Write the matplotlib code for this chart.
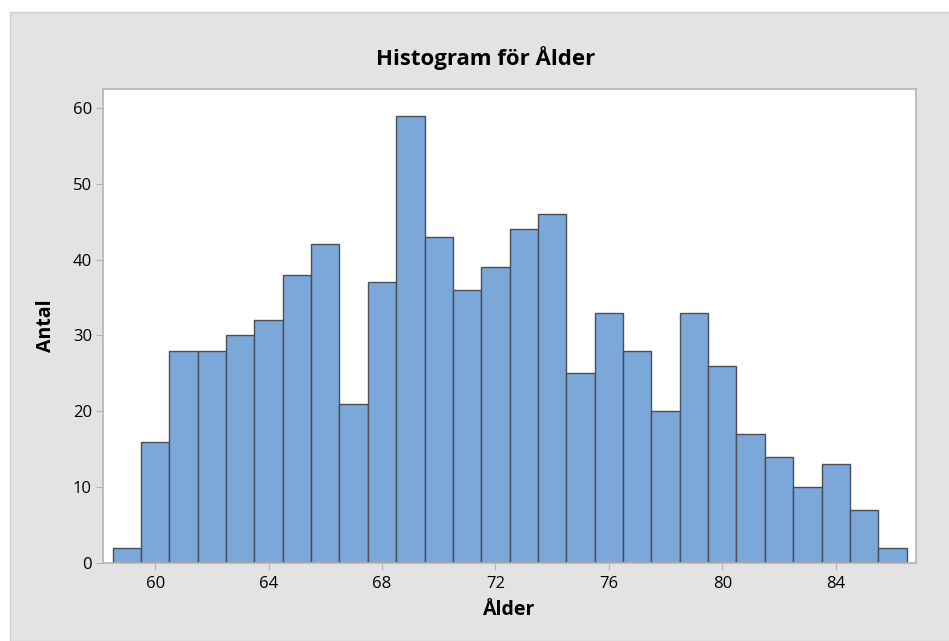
import matplotlib
matplotlib.use("Agg")
import matplotlib.pyplot as plt
from matplotlib.patches import Rectangle

# Age bins (centres) and counts
ages = list(range(59, 87))
counts = [2, 16, 28, 28, 30, 32, 38, 42, 21, 37, 59, 43, 36, 39,
          44, 46, 25, 33, 28, 20, 33, 26, 17, 14, 10, 13, 7, 2]
xticks = [60, 64, 68, 72, 76, 80, 84]
yticks = [0, 10, 20, 30, 40, 50, 60]

plt.rcParams['font.family'] = ['Open Sans', 'DejaVu Sans']

fig = plt.figure(figsize=(9.49, 6.41), dpi=100, facecolor='white')
# gray panel behind the chart
fig.patches.append(Rectangle((10 / 949, 0), 1, 1 - 12 / 641, transform=fig.transFigure,
                             facecolor='#e3e3e3', edgecolor='#cfcfcf', lw=1, zorder=-5))

ax = fig.add_axes([103 / 949, 1 - 563 / 641, (916 - 103) / 949, (563 - 89) / 641])
ax.set_facecolor('white')
ax.set_zorder(2)

ax.bar(ages, counts, width=1.0, color='#7ba7d9', edgecolor='#4d4d55', linewidth=1.0)

ax.set_xlim(58.16, 86.83)
ax.set_ylim(0, 62.5)
ax.set_xticks(xticks)
ax.set_yticks(yticks)

for s in ax.spines.values():
    s.set_color('#b4b4b4')
    s.set_linewidth(1.2)

ax.tick_params(axis='both', direction='out', length=5, color='#b4b4b4',
               labelsize=12, labelcolor='black')
ax.tick_params(axis='x', pad=4)
ax.tick_params(axis='y', pad=3)

fig.text(486 / 949, 1 - 58 / 641, 'Histogram för Ålder', fontsize=16,
         fontweight='bold', ha='center', va='center')
ax.set_xlabel('Ålder', fontsize=14, fontweight='bold', labelpad=6)
ax.set_ylabel('Antal', fontsize=14, fontweight='bold', labelpad=12)

fig.savefig('out.png', dpi=100, facecolor=fig.get_facecolor())
